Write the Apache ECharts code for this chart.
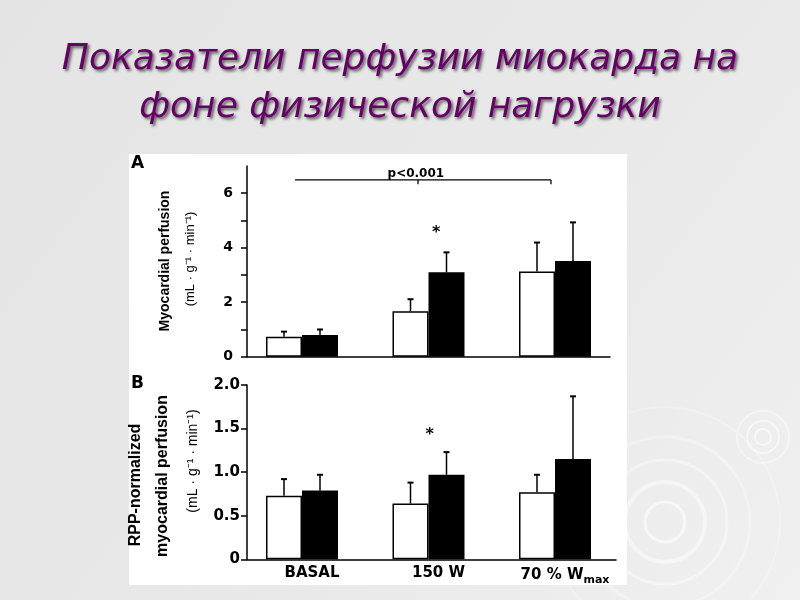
<!DOCTYPE html>
<html><head><meta charset="utf-8">
<script src="https://cdn.jsdelivr.net/npm/echarts@6/dist/echarts.min.js"></script>
<style>html,body{margin:0;padding:0;background:#e8e8e8}#c{width:800px;height:600px}</style>
</head><body><div id="c"></div>
<script>
// ---------- data ----------
const titleText = 'Показатели перфузии миокарда на\nфоне физической нагрузки';
const categories = ['BASAL', '150 W', '70 % W{sub|max}'];
const groupPos = [0, 1, 2];
// Panel A: myocardial perfusion (mL·g-1·min-1)
const perfWhite = [0.73, 1.67, 3.13];
const perfWhiteErr = [0.19, 0.44, 1.06];
const perfBlack = [0.80, 3.10, 3.51];
const perfBlackErr = [0.20, 0.73, 1.42];
// Panel B: RPP-normalized myocardial perfusion
const rppWhite = [0.73, 0.64, 0.77];
const rppWhiteErr = [0.19, 0.24, 0.20];
const rppBlack = [0.79, 0.97, 1.15];
const rppBlackErr = [0.18, 0.26, 0.72];
// axes ticks / labels
const yTicksA = [0, 1, 2, 3, 4, 5, 6];
const yLabelsA = [0, 2, 4, 6];
const yTicksB = [0, 0.5, 1, 1.5, 2];
// annotations
const starA = [1.06, 4.55];
const starB = [1.01, 1.43];
const bracketX = [-0.055, 0.917, 1.968];
const bracketY = 6.49;
const bracketTickY = 6.33;
const pText = 'p<0.001';
const pTextPos = [0.90, 6.71];

// ---------- chart ----------
const chart = echarts.init(document.getElementById('c'));
const BAR_W = 36;
const boldFont = 'DejaVu Sans';

function barSeries(xi, yi, vals, color) {
  return {
    type: 'bar', xAxisIndex: xi, yAxisIndex: yi, barWidth: BAR_W, barGap: '0%',
    data: vals.map((v, i) => [groupPos[i], v]),
    itemStyle: { color: color, borderColor: '#000', borderWidth: 1.5 },
    silent: true, z: 3
  };
}
function errSeries(xi, yi, vals, errs, dx) {
  return {
    type: 'custom', xAxisIndex: xi, yAxisIndex: yi, z: 4, silent: true,
    data: vals.map((v, i) => [groupPos[i], v, v + errs[i]]),
    renderItem: function (params, api) {
      const x = api.value(0);
      const b = api.coord([x, api.value(1)]);
      const t = api.coord([x, api.value(2)]);
      const cx = b[0] + dx;
      return { type: 'group', children: [
        { type: 'line', shape: { x1: cx, y1: b[1], x2: cx, y2: t[1] }, style: { stroke: '#000', lineWidth: 1.5 } },
        { type: 'line', shape: { x1: cx - 3, y1: t[1], x2: cx + 3, y2: t[1] }, style: { stroke: '#000', lineWidth: 2 } }
      ]};
    }
  };
}
function starSeries(xi, yi, pos) {
  return {
    type: 'custom', xAxisIndex: xi, yAxisIndex: yi, z: 4, silent: true,
    data: [pos],
    renderItem: function (params, api) {
      const p = api.coord([api.value(0), api.value(1)]);
      return { type: 'text', x: p[0], y: p[1], style: { text: '*', align: 'center', verticalAlign: 'middle', font: 'bold 16px "DejaVu Sans"', fill: '#000' } };
    }
  };
}
const bracketSeries = {
  type: 'custom', xAxisIndex: 0, yAxisIndex: 0, z: 4, silent: true,
  data: [[bracketX[0], bracketY]],
  renderItem: function (params, api) {
    const l = api.coord([bracketX[0], bracketY]);
    const m = api.coord([bracketX[1], bracketY]);
    const r = api.coord([bracketX[2], bracketY]);
    const mt = api.coord([bracketX[1], bracketTickY]);
    const rt = api.coord([bracketX[2], bracketTickY]);
    const tp = api.coord(pTextPos);
    const st = { stroke: '#000', lineWidth: 1.3 };
    return { type: 'group', children: [
      { type: 'line', shape: { x1: l[0], y1: l[1], x2: r[0], y2: r[1] }, style: st },
      { type: 'line', shape: { x1: m[0], y1: m[1], x2: mt[0], y2: mt[1] }, style: st },
      { type: 'line', shape: { x1: r[0], y1: r[1], x2: rt[0], y2: rt[1] }, style: st },
      { type: 'text', x: tp[0], y: tp[1], style: { text: pText, align: 'center', verticalAlign: 'middle', font: 'bold 12px "DejaVu Sans"', fill: '#000' } }
    ]};
  }
};

const axisLineStyle = { color: '#000', width: 1.5 };
const PX_PER_X = 126.5, X0 = 302;
function ring(cx, cy, r, a, w) {
  return { type: 'circle', z: -9, shape: { cx: cx, cy: cy, r: r }, style: { fill: 'none', stroke: 'rgba(255,255,255,' + a + ')', lineWidth: w } };
}
const option = {
  animation: false,
  backgroundColor: '#e8e8e8',
  title: {
    text: titleText, left: 'center', top: 31,
    textStyle: {
      fontFamily: 'DejaVu Sans', fontStyle: 'italic', fontWeight: 'normal', fontSize: 36,
      color: '#660066', lineHeight: 48,
      textShadowColor: 'rgba(0,0,0,0.6)', textShadowBlur: 3, textShadowOffsetX: 2, textShadowOffsetY: 2
    }
  },
  graphic: [
    { type: 'rect', z: -10, shape: { x: 0, y: 0, width: 800, height: 600 }, style: { fill: new echarts.graphic.LinearGradient(0, 0, 1, 1, [{ offset: 0, color: '#e4e4e4' }, { offset: 0.6, color: '#e9e9e9' }, { offset: 1, color: '#f0f0f0' }]) } },
    ring(665, 522, 20, 0.55, 3),
    ring(665, 522, 40, 0.45, 4),
    ring(665, 522, 62, 0.4, 3),
    ring(665, 522, 85, 0.3, 3),
    ring(665, 522, 115, 0.25, 2),
    ring(763, 437, 8, 0.6, 2),
    ring(763, 437, 16, 0.5, 2),
    ring(763, 437, 26, 0.4, 2),
    { type: 'rect', z: -5, shape: { x: 129, y: 154, width: 498, height: 431 }, style: { fill: '#ffffff' } },
    { type: 'text', z: 5, x: 131, y: 155, style: { text: 'A', font: 'bold 17px "DejaVu Sans"', fill: '#000' } },
    { type: 'text', z: 5, x: 131, y: 375, style: { text: 'B', font: 'bold 17px "DejaVu Sans"', fill: '#000' } },
    { type: 'text', z: 5, x: 165, y: 261, rotation: Math.PI / 2, style: { text: 'Myocardial perfusion', align: 'center', verticalAlign: 'middle', font: 'bold 14px "Liberation Sans"', fill: '#000' } },
    { type: 'text', z: 5, x: 190, y: 259, rotation: Math.PI / 2, style: { text: '(mL · g⁻¹ · min⁻¹)', align: 'center', verticalAlign: 'middle', font: '13px "Liberation Sans"', fill: '#000' } },
    { type: 'text', z: 5, x: 136, y: 485, rotation: Math.PI / 2, style: { text: 'RPP-normalized', align: 'center', verticalAlign: 'middle', font: 'bold 16px "Liberation Sans"', fill: '#000' } },
    { type: 'text', z: 5, x: 163, y: 476, rotation: Math.PI / 2, style: { text: 'myocardial perfusion', align: 'center', verticalAlign: 'middle', font: 'bold 16px "Liberation Sans"', fill: '#000' } },
    { type: 'text', z: 5, x: 193, y: 461, rotation: Math.PI / 2, style: { text: '(mL · g⁻¹ · min⁻¹)', align: 'center', verticalAlign: 'middle', font: '14px "Liberation Sans"', fill: '#000' } }
  ],
  grid: [
    { left: 247, top: 166, width: 363, height: 190.7, containLabel: false, outerBoundsMode: 'none' },
    { left: 247, top: 385, width: 369, height: 174.3, containLabel: false, outerBoundsMode: 'none' }
  ],
  xAxis: [
    { gridIndex: 0, type: 'value', min: (247 - X0) / PX_PER_X, max: (610 - X0) / PX_PER_X,
      axisLine: { show: true, onZero: false, lineStyle: axisLineStyle }, axisTick: { show: false }, axisLabel: { show: false }, splitLine: { show: false } },
    { gridIndex: 1, type: 'value', min: (247 - X0) / PX_PER_X, max: (616 - X0) / PX_PER_X,
      axisLine: { show: true, onZero: false, lineStyle: axisLineStyle }, axisTick: { show: false }, splitLine: { show: false },
      axisLabel: { show: true, customValues: groupPos, margin: 6, padding: [0, 0, 0, 20],
        formatter: function (v) { return categories[Math.round(v)]; },
        color: '#000', fontFamily: boldFont, fontWeight: 'bold', fontSize: 15,
        rich: { sub: { fontFamily: boldFont, fontWeight: 'bold', fontSize: 11, color: '#000', padding: [9, 0, 0, 0] } } } }
  ],
  yAxis: [
    { gridIndex: 0, type: 'value', min: 0, max: 7,
      axisLine: { show: true, onZero: false, lineStyle: axisLineStyle },
      axisTick: { show: true, length: 6, customValues: yTicksA, lineStyle: axisLineStyle },
      axisLabel: { customValues: yLabelsA, margin: 14, color: '#000', fontFamily: boldFont, fontWeight: 'bold', fontSize: 14 },
      splitLine: { show: false } },
    { gridIndex: 1, type: 'value', min: 0, max: 2,
      axisLine: { show: true, onZero: false, lineStyle: axisLineStyle },
      axisTick: { show: true, length: 6, customValues: yTicksB, lineStyle: axisLineStyle },
      axisLabel: { customValues: yTicksB, margin: 7, color: '#000', fontFamily: boldFont, fontWeight: 'bold', fontSize: 15,
        formatter: function (v) { return v === 0 ? '0' : v.toFixed(1); } },
      splitLine: { show: false } }
  ],
  series: [
    barSeries(0, 0, perfWhite, '#ffffff'),
    barSeries(0, 0, perfBlack, '#000000'),
    errSeries(0, 0, perfWhite, perfWhiteErr, -BAR_W / 2),
    errSeries(0, 0, perfBlack, perfBlackErr, BAR_W / 2),
    starSeries(0, 0, starA),
    bracketSeries,
    barSeries(1, 1, rppWhite, '#ffffff'),
    barSeries(1, 1, rppBlack, '#000000'),
    errSeries(1, 1, rppWhite, rppWhiteErr, -BAR_W / 2),
    errSeries(1, 1, rppBlack, rppBlackErr, BAR_W / 2),
    starSeries(1, 1, starB)
  ]
};
chart.setOption(option);
</script>
</body></html>
